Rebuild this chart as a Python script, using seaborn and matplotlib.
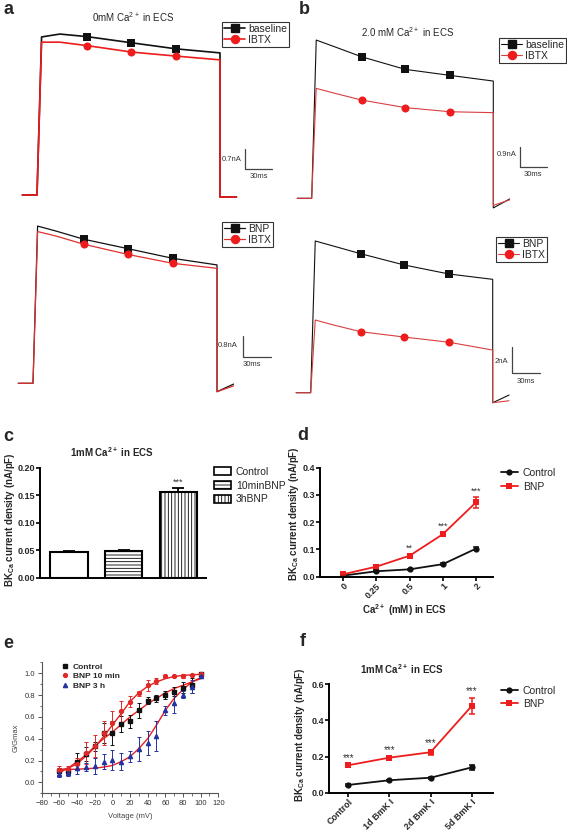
import numpy as np
import pandas as pd
import matplotlib
matplotlib.use("Agg")
import matplotlib.pyplot as plt
import seaborn as sns
from matplotlib.patches import Patch
from matplotlib.lines import Line2D
from matplotlib.ticker import MultipleLocator

sns.set_theme(style="white")
plt.rcParams["font.family"] = ["Liberation Sans", "DejaVu Sans"]
plt.rcParams["mathtext.default"] = "regular"
plt.rcParams["hatch.linewidth"] = 0.6
plt.rcParams["hatch.color"] = "black"

# ---------------- data ----------------
# Panels a/b: BKCa current traces (time in ms, current in nA), vertices of each trace
trace_t = [-16, 0, 5, 25, 55, 103, 152, 200, 200, 218]
a1_baseline = [0, 0, 5.45, 5.55, 5.46, 5.25, 5.04, 4.90, -0.07, -0.07]
a1_ibtx = [0, 0, 5.27, 5.27, 5.15, 4.93, 4.79, 4.66, -0.07, -0.07]
b1_baseline = [0, 0, 6.91, 6.62, 6.18, 5.63, 5.37, 5.12, -0.42, -0.03]
b1_ibtx = [0, 0, 4.80, 4.59, 4.29, 3.96, 3.78, 3.74, -0.31, -0.07]
a2_bnp = [0, 0, 5.99, 5.80, 5.49, 5.13, 4.76, 4.51, -0.32, -0.03]
a2_ibtx = [0, 0, 5.78, 5.61, 5.30, 4.91, 4.57, 4.38, -0.32, -0.10]
b2_bnp = [0, 0, 11.67, 11.28, 10.69, 9.82, 9.13, 8.72, -0.77, -0.18]
b2_ibtx = [0, 0, 5.59, 5.21, 4.69, 4.28, 3.88, 3.28, -0.77, -0.62]

# Panel c
c_groups = ["Control", "10minBNP", "3hBNP"]
c_means = [0.046, 0.049, 0.155]
c_sem = [0.003, 0.002, 0.008]

# Panel d
d_ca = ["0", "0.25", "0.5", "1", "2"]
d_ctrl = [0.004, 0.020, 0.027, 0.046, 0.103]
d_ctrl_sem = [0.002, 0.003, 0.003, 0.004, 0.005]
d_bnp = [0.009, 0.037, 0.077, 0.156, 0.273]
d_bnp_sem = [0.003, 0.005, 0.008, 0.008, 0.021]
d_stars = ["", "", "**", "***", "***"]

# Panel e
e_v = [-60, -50, -40, -30, -20, -10, 0, 10, 20, 30, 40, 50, 60, 70, 80, 90, 100]
e_ctrl = [0.10, 0.10, 0.19, 0.26, 0.33, 0.455, 0.455, 0.535, 0.56, 0.66, 0.75, 0.77, 0.80, 0.83, 0.865, 0.89, 0.99]
e_ctrl_err = [0.03, 0.02, 0.08, 0.06, 0.04, 0.09, 0.11, 0.07, 0.06, 0.07, 0.03, 0.03, 0.04, 0.04, 0.05, 0.07, 0.02]
e_b10 = [0.11, 0.12, 0.17, 0.27, 0.33, 0.45, 0.54, 0.65, 0.74, 0.815, 0.89, 0.93, 0.97, 0.975, 0.975, 0.98, 0.99]
e_b10_err = [0.04, 0.03, 0.05, 0.10, 0.10, 0.11, 0.11, 0.10, 0.05, 0.02, 0.05, 0.03, 0.015, 0.01, 0.02, 0.01, 0.01]
e_b3 = [0.08, 0.09, 0.13, 0.14, 0.15, 0.19, 0.205, 0.19, 0.24, 0.31, 0.36, 0.425, 0.66, 0.73, 0.805, 0.875, 0.975]
e_b3_err = [0.03, 0.03, 0.05, 0.04, 0.07, 0.07, 0.09, 0.08, 0.05, 0.11, 0.11, 0.14, 0.04, 0.09, 0.03, 0.06, 0.02]
e_fit_ctrl = [0.09, 0.13, 0.19, 0.25, 0.33, 0.40, 0.46, 0.53, 0.60, 0.66, 0.72, 0.77, 0.82, 0.86, 0.89, 0.92, 0.95]
e_fit_b10 = [0.11, 0.13, 0.17, 0.24, 0.32, 0.42, 0.525, 0.63, 0.74, 0.82, 0.88, 0.92, 0.95, 0.97, 0.98, 0.985, 0.99]
e_fit_b3 = [0.12, 0.12, 0.12, 0.125, 0.13, 0.14, 0.155, 0.19, 0.235, 0.31, 0.40, 0.525, 0.66, 0.77, 0.85, 0.92, 0.96]

# Panel f
f_groups = ["Control", "1d BmK I", "2d BmK I", "5d BmK I"]
f_ctrl = [0.043, 0.069, 0.083, 0.140]
f_ctrl_sem = [0.004, 0.004, 0.005, 0.012]
f_bnp = [0.152, 0.194, 0.224, 0.480]
f_bnp_sem = [0.006, 0.007, 0.015, 0.045]
f_stars = ["***", "***", "***", "***"]

# ---------------- figure ----------------
W, H = 567, 831
fig = plt.figure(figsize=(W / 100, H / 100), dpi=100)
fig.patch.set_facecolor("white")

RED = "#ee1c1c"
BLK = "#111111"


def fp(x, y):
    return x / W, 1 - y / H


def px_axes(x0, y0, x1, y1):
    return fig.add_axes([x0 / W, 1 - y1 / H, (x1 - x0) / W, (y1 - y0) / H])


def ftext(x, y, s, **kw):
    kw.setdefault("ha", "center")
    kw.setdefault("va", "center")
    fig.text(x / W, 1 - y / H, s, **kw)


def trace_panel(box, step_px, base_px, ppms, ppna, series, names, lw,
                corner, bar_na, bar_txt, bar_txt_pos, ms_txt_pos, leg_xy, red_col):
    x0, y0, x1, y1 = box
    ax = px_axes(x0, y0, x1, y1)
    ax.set_xlim((x0 - step_px) / ppms, (x1 - step_px) / ppms)
    ax.set_ylim((base_px - y1) / ppna, (base_px - y0) / ppna)
    ax.axis("off")
    cols = [BLK, red_col]
    mks = ["s", "o"]
    for vals, col, mk in zip(series, cols, mks):
        sns.lineplot(x=trace_t, y=vals, ax=ax, color=col, lw=lw, sort=False,
                     estimator=None, marker=mk, markevery=[4, 5, 6], ms=5.2 if mk == "s" else 5.8,
                     mec=col if mk == "s" else RED, mfc=col if mk == "s" else RED, mew=0)
    # scale bar
    tc = (corner[0] - step_px) / ppms
    ic = (base_px - corner[1]) / ppna
    ax.plot([tc, tc, tc + 30], [ic + bar_na, ic, ic], color="#444444", lw=0.9)
    ftext(*bar_txt_pos, bar_txt, fontsize=5.5, color="#333333")
    ftext(*ms_txt_pos, "30ms", fontsize=5.5, color="#333333")
    handles = [Line2D([], [], color=BLK, marker="s", ms=5.2, lw=lw),
               Line2D([], [], color=red_col, marker="o", ms=5.8, mfc=RED, mec=RED, lw=lw)]
    leg = ax.legend(handles, names, loc="upper left", bbox_to_anchor=fp(*leg_xy),
                    bbox_transform=fig.transFigure, fontsize=7.5, frameon=True,
                    fancybox=False, edgecolor="#333333", framealpha=1, borderpad=0.2,
                    handlelength=2.0, handletextpad=0.3, labelspacing=0.1, borderaxespad=0)
    leg.get_frame().set_linewidth(0.8)
    return ax


# panel a top
trace_panel((12, 18, 292, 205), 37, 195, 0.915, 29.0, [a1_baseline, a1_ibtx],
            ["baseline", "IBTX"], 1.2, (245, 169.3), 0.7, "0.7nA", (232, 159.5), (259, 176),
            (222, 21.5), RED)
ftext(133, 17, "0mM Ca$^{2+}$ in ECS", fontsize=7)
# panel b top
trace_panel((290, 18, 567, 215), 311.7, 198.3, 0.908, 22.9, [b1_baseline, b1_ibtx],
            ["baseline", "IBTX"], 0.8, (520, 167.3), 0.9, "0.9nA", (507, 155), (533, 174),
            (499, 38), "#d84040")
ftext(408, 32, "2.0 mM Ca$^{2+}$ in ECS", fontsize=7)
# panel a bottom
trace_panel((12, 215, 292, 400), 33, 383.3, 0.92, 26.25, [a2_bnp, a2_ibtx],
            ["BNP", "IBTX"], 0.9, (243, 356.7), 0.8, "0.8nA", (228, 345.7), (252, 364),
            (222, 222), "#e03030")
# panel b bottom
trace_panel((290, 215, 567, 415), 310.7, 392.7, 0.91, 13.0, [b2_bnp, b2_ibtx],
            ["BNP", "IBTX"], 0.8, (512.3, 373.3), 2.0, "2nA", (501.7, 361.7), (525.7, 381.7),
            (496, 236.5), "#d84040")


def style_graphpad(ax):
    for s in ["top", "right"]:
        ax.spines[s].set_visible(False)
    for s in ["left", "bottom"]:
        ax.spines[s].set_linewidth(1.4)
        ax.spines[s].set_color("black")
    ax.tick_params(axis="both", direction="out", length=2.6, width=1.2, color="black",
                   labelsize=6.5, pad=1.0, left=True, bottom=True)
    for lab in ax.get_yticklabels() + ax.get_xticklabels():
        lab.set_fontweight("bold")
    ax.set_xlabel("")
    ax.set_ylabel("")


YLAB = "BK$_{Ca}$ current density (nA/pF)"

# ---------------- panel c ----------------
axc = px_axes(40, 467.7, 206, 577.7)
dfc = pd.DataFrame({"group": c_groups, "val": c_means})
sns.barplot(data=dfc, x="group", y="val", color="white", edgecolor="black", linewidth=1.5,
            width=0.685, saturation=1, ax=axc)
hatches = ["", "-----", "|||||"]
for p, h in zip(axc.patches, hatches):
    p.set_hatch(h)
axc.errorbar(range(3), c_means, yerr=[[0] * 3, c_sem], fmt="none", ecolor="black",
             elinewidth=1.3, capsize=4.5, capthick=1.3)
axc.set_xlim(-0.524, 2.504)
axc.set_ylim(0, 0.2)
axc.set_yticks([0, 0.05, 0.10, 0.15, 0.20])
axc.set_yticklabels(["0.00", "0.05", "0.10", "0.15", "0.20"])
axc.set_xticks([])
style_graphpad(axc)
axc.tick_params(axis="x", length=0)
axc.text(2, c_means[2] + c_sem[2] + 0.002, "***", ha="center", va="bottom", fontsize=6.5, color="#333333")
ftext(112, 452, "1mM Ca$^{2+}$ in ECS", fontsize=7, fontweight="bold")
ftext(10, 520, YLAB, fontsize=7, fontweight="bold", rotation=90)
hc = [Patch(facecolor="white", edgecolor="black", hatch=h, linewidth=1.2) for h in hatches]
legc = axc.legend(hc, c_groups, loc="upper left", bbox_to_anchor=fp(214, 467),
                  bbox_transform=fig.transFigure, frameon=False, fontsize=7.5,
                  handlelength=1.6, handleheight=0.8, handletextpad=0.5, labelspacing=0.35,
                  borderpad=0, borderaxespad=0)

# ---------------- panel d ----------------
axd = px_axes(320, 467.7, 493.3, 576.7)
dfd = pd.DataFrame({
    "pos": list(range(5)) * 2,
    "val": d_ctrl + d_bnp,
    "grp": ["Control"] * 5 + ["BNP"] * 5,
})
sns.lineplot(data=dfd, x="pos", y="val", hue="grp", style="grp",
             palette={"Control": BLK, "BNP": RED}, markers={"Control": "o", "BNP": "s"},
             dashes=False, lw=1.3, ms=4.5, mew=0, ax=axd, legend=False)
axd.errorbar(range(5), d_ctrl, yerr=d_ctrl_sem, fmt="none", ecolor=BLK, elinewidth=1.1, capsize=2.5, capthick=1.1)
axd.errorbar(range(5), d_bnp, yerr=d_bnp_sem, fmt="none", ecolor=RED, elinewidth=1.1, capsize=2.5, capthick=1.1)
for i, s in enumerate(d_stars):
    if s:
        axd.text(i, d_bnp[i] + d_bnp_sem[i] + 0.004, s, ha="center", va="bottom", fontsize=6.5, color="#333333")
axd.set_xlim(-0.70, 4.52)
axd.set_ylim(0, 0.4)
axd.set_yticks([0, 0.1, 0.2, 0.3, 0.4])
axd.set_yticklabels(["0.0", "0.1", "0.2", "0.3", "0.4"])
axd.set_xticks(range(5))
axd.set_xticklabels(d_ca, rotation=45, ha="right", rotation_mode="anchor")
style_graphpad(axd)
ftext(405, 610, "Ca$^{2+}$ (mM) in ECS", fontsize=7, fontweight="bold")
ftext(294, 514, YLAB, fontsize=7, fontweight="bold", rotation=90)
hd = [Line2D([], [], color=BLK, marker="o", ms=4.5, lw=1.3, mew=0),
      Line2D([], [], color=RED, marker="s", ms=4.5, lw=1.3, mew=0)]
axd.legend(hd, ["Control", "BNP"], loc="upper left", bbox_to_anchor=fp(501, 468),
           bbox_transform=fig.transFigure, frameon=False, fontsize=7.5, handlelength=1.6,
           handletextpad=0.5, labelspacing=0.35, borderpad=0, borderaxespad=0)

# ---------------- panel e ----------------
axe = px_axes(41.7, 662.3, 218.3, 793.3)
BLUE = "#2433a0"
for fit in [e_fit_ctrl, e_fit_b10, e_fit_b3]:
    sns.lineplot(x=e_v, y=fit, ax=axe, color="#e82020", lw=1.0, sort=False, estimator=None)
axe.errorbar(e_v, e_ctrl, yerr=e_ctrl_err, fmt="s", color=BLK, ms=2.6, elinewidth=0.7, capsize=1.6, capthick=0.7)
axe.errorbar(e_v, e_b10, yerr=e_b10_err, fmt="o", color="#e02828", ms=2.8, elinewidth=0.7, capsize=1.6, capthick=0.7)
axe.errorbar(e_v, e_b3, yerr=e_b3_err, fmt="^", color=BLUE, ms=3.0, elinewidth=0.7, capsize=1.6, capthick=0.7)
axe.set_xlim(-80, 120)
axe.set_ylim(-0.1, 1.1)
axe.set_xticks(range(-80, 121, 20))
axe.set_yticks([0, 0.2, 0.4, 0.6, 0.8, 1.0])
axe.set_yticklabels(["0.0", "0.2", "0.4", "0.6", "0.8", "1.0"])
axe.xaxis.set_minor_locator(MultipleLocator(10))
axe.yaxis.set_minor_locator(MultipleLocator(0.1))
for s in ["top", "right"]:
    axe.spines[s].set_visible(False)
for s in ["left", "bottom"]:
    axe.spines[s].set_linewidth(0.8)
    axe.spines[s].set_color("#555555")
axe.tick_params(which="major", direction="out", length=3, width=0.7, color="#555555",
                labelsize=5.5, labelcolor="#333333", pad=1.5, left=True, bottom=True)
axe.tick_params(which="minor", direction="out", length=1.8, width=0.6, color="#555555", left=True, bottom=True)
axe.set_xlabel("")
axe.set_ylabel("")
ftext(130, 816.5, "Voltage (mV)", fontsize=5.5, color="#444444")
ftext(16, 738, "G/Gmax", fontsize=5.5, color="#444444", rotation=90)
he = [Line2D([], [], color=BLK, marker="s", ms=2.6, lw=0),
      Line2D([], [], color="#e02828", marker="o", ms=2.8, lw=0),
      Line2D([], [], color=BLUE, marker="^", ms=3.0, lw=0)]
axe.legend(he, ["Control", "BNP 10 min", "BNP 3 h"], loc="upper left", bbox_to_anchor=fp(61, 663),
           bbox_transform=fig.transFigure, frameon=False, prop={"size": 6, "weight": "bold"},
           handlelength=1.0, handletextpad=0.4, labelspacing=0.2, borderpad=0, borderaxespad=0)

# ---------------- panel f ----------------
axf = px_axes(329, 684.3, 492.7, 792.7)
dff = pd.DataFrame({
    "pos": list(range(4)) * 2,
    "val": f_ctrl + f_bnp,
    "grp": ["Control"] * 4 + ["BNP"] * 4,
})
sns.lineplot(data=dff, x="pos", y="val", hue="grp", style="grp",
             palette={"Control": BLK, "BNP": RED}, markers={"Control": "o", "BNP": "s"},
             dashes=False, lw=1.3, ms=4.5, mew=0, ax=axf, legend=False)
axf.errorbar(range(4), f_ctrl, yerr=f_ctrl_sem, fmt="none", ecolor=BLK, elinewidth=1.1, capsize=2.5, capthick=1.1)
axf.errorbar(range(4), f_bnp, yerr=f_bnp_sem, fmt="none", ecolor=RED, elinewidth=1.1, capsize=2.5, capthick=1.1)
for i, s in enumerate(f_stars):
    axf.text(i, f_bnp[i] + f_bnp_sem[i] + 0.008, s, ha="center", va="bottom", fontsize=7, color="#333333")
axf.set_xlim(-0.47, 3.51)
axf.set_ylim(0, 0.6)
axf.set_yticks([0, 0.2, 0.4, 0.6])
axf.set_yticklabels(["0.0", "0.2", "0.4", "0.6"])
axf.set_xticks(range(4))
axf.set_xticklabels(f_groups, rotation=45, ha="right", rotation_mode="anchor")
style_graphpad(axf)
ftext(402, 669, "1mM Ca$^{2+}$ in ECS", fontsize=7, fontweight="bold")
ftext(300, 735, YLAB, fontsize=7, fontweight="bold", rotation=90)
axf.legend(hd, ["Control", "BNP"], loc="upper left", bbox_to_anchor=fp(501, 685.5),
           bbox_transform=fig.transFigure, frameon=False, fontsize=7.5, handlelength=1.6,
           handletextpad=0.5, labelspacing=0.35, borderpad=0, borderaxespad=0)

# panel letters
for letter, (x, y) in zip("abcdef", [(8.5, 10), (304.5, 9), (8, 437), (303, 435), (8.5, 644), (303, 642)]):
    ftext(x, y, letter, fontsize=13, fontweight="bold")

fig.savefig("out.png", dpi=100, facecolor="white")
